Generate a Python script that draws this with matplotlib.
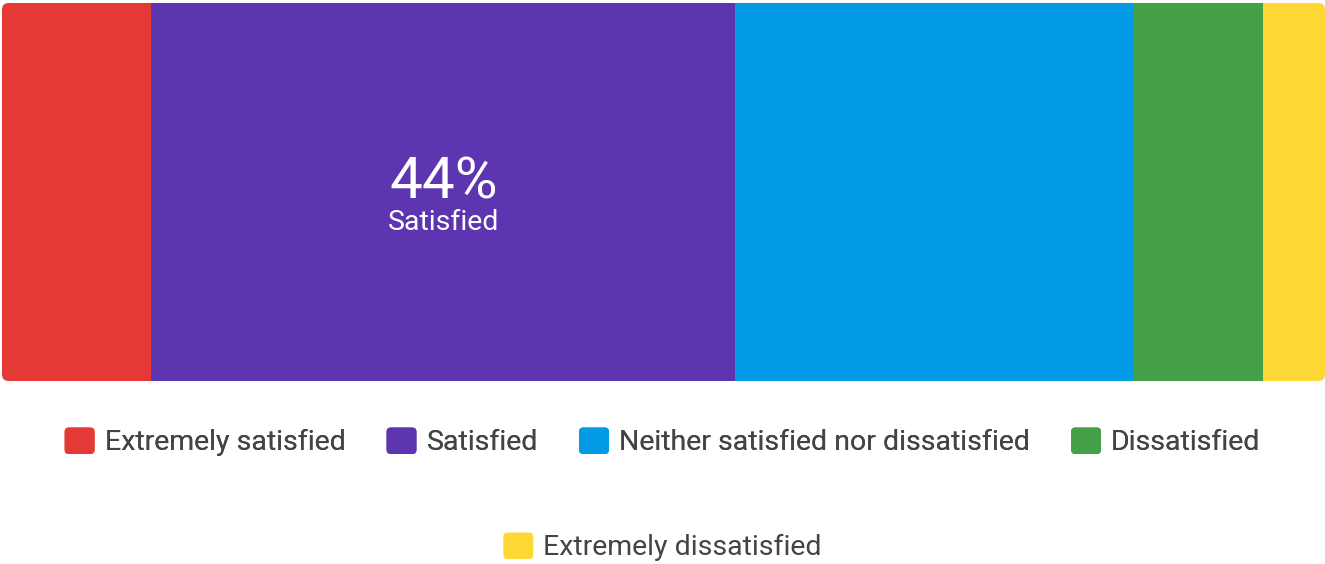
import matplotlib
matplotlib.use("Agg")
import matplotlib.pyplot as plt
from matplotlib.patches import FancyBboxPatch, Patch
from matplotlib.legend_handler import HandlerPatch

plt.rcParams['font.family'] = ['Roboto', 'DejaVu Sans']

categories = ["Extremely satisfied", "Satisfied", "Neither satisfied nor dissatisfied",
              "Dissatisfied", "Extremely dissatisfied"]
values = [11.3, 44.1, 30.2, 9.7, 4.7]
colors = ["#E53935", "#5E35B1", "#039BE5", "#43A047", "#FDD835"]
labelled = "Satisfied"

fig = plt.figure(figsize=(13.25, 5.64), dpi=100)
ax = fig.add_axes([2 / 1325, 1 - 381 / 564, 1323 / 1325, 378 / 564])

# rounded outline used to clip the stacked bar
clip = FancyBboxPatch((0, 0), 1, 1, boxstyle="round,pad=0,rounding_size=0.005",
                      mutation_aspect=1323 / 378, transform=ax.transAxes,
                      facecolor="none", edgecolor="none")
ax.add_patch(clip)

left = 0
for cat, v, c in zip(categories, values, colors):
    bars = ax.barh(0, v, left=left, height=1, color=c, linewidth=0)
    for b in bars:
        b.set_clip_path(clip)
    if cat == labelled:
        ax.text(left + v / 2, -0.016, f"{round(v)}%", ha="center", va="baseline",
                color="white", fontsize=42)
        ax.text(left + v / 2, -0.10, cat, ha="center", va="baseline",
                color="white", fontsize=20.5)
    left += v

ax.set_xlim(0, sum(values))
ax.set_ylim(-0.5, 0.5)
ax.axis("off")


def rounded(legend, orig_handle, xdescent, ydescent, width, height, fontsize):
    return FancyBboxPatch((-xdescent, -ydescent), width, height,
                          boxstyle="round,pad=0,rounding_size=3")


handles = [Patch(facecolor=c, edgecolor="none") for c in colors]
opts = dict(frameon=False, fontsize=20.5, handlelength=1.05, handleheight=1.05,
            handletextpad=0.35, columnspacing=1.45, labelcolor="#444444",
            handler_map={Patch: HandlerPatch(patch_func=rounded)})
leg1 = fig.legend(handles[:4], categories[:4], ncol=4, loc="center",
                  bbox_to_anchor=(0.5, 1 - 442 / 564), **opts)
fig.add_artist(leg1)
fig.legend(handles[4:], categories[4:], ncol=1, loc="center",
           bbox_to_anchor=(0.5, 1 - 547 / 564), **opts)

fig.savefig("out.png", dpi=100)
